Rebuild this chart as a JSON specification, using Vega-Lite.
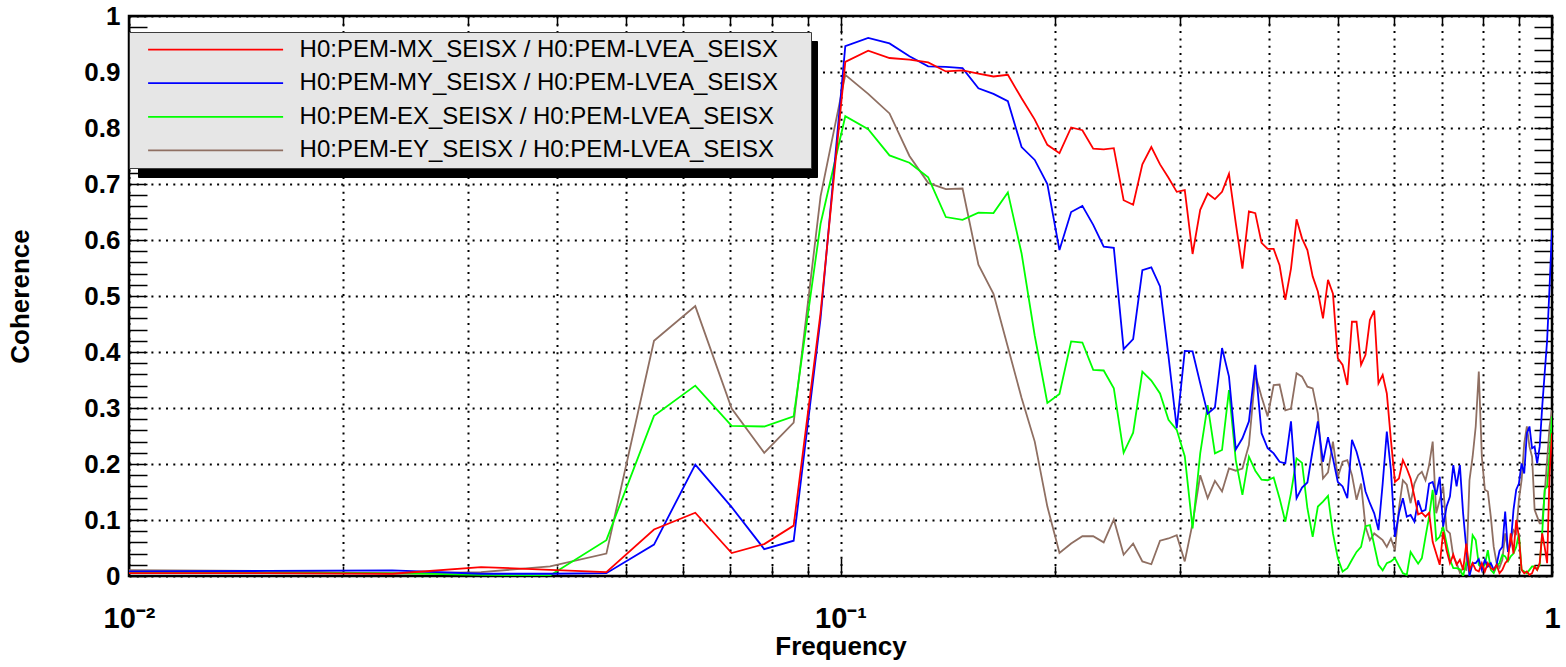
{
  "$schema": "https://vega.github.io/schema/vega-lite/v6.json",
  "width": 1423,
  "height": 560,
  "autosize": {"type": "none"},
  "padding": {"left": 129, "top": 16, "right": 14, "bottom": 91},
  "background": "white",
  "config": {
    "view": {"stroke": "black", "strokeWidth": 2.5},
    "font": "Liberation Sans"
  },
  "data": {
    "values": [
      {"f": 0.0078125, "MX": 0.005, "MY": 0.008, "EX": 0.007, "EY": 0.011},
      {"f": 0.015625, "MX": 0.005, "MY": 0.009, "EX": 0.006, "EY": 0.009},
      {"f": 0.0234375, "MX": 0.004, "MY": 0.010, "EX": 0.005, "EY": 0.004},
      {"f": 0.03125, "MX": 0.016, "MY": 0.004, "EX": 0.002, "EY": 0.007},
      {"f": 0.0390625, "MX": 0.011, "MY": 0.004, "EX": 0.001, "EY": 0.017},
      {"f": 0.046875, "MX": 0.007, "MY": 0.005, "EX": 0.064, "EY": 0.040},
      {"f": 0.0546875, "MX": 0.083, "MY": 0.056, "EX": 0.286, "EY": 0.420},
      {"f": 0.0625, "MX": 0.113, "MY": 0.199, "EX": 0.340, "EY": 0.482},
      {"f": 0.0703125, "MX": 0.041, "MY": 0.123, "EX": 0.268, "EY": 0.299},
      {"f": 0.078125, "MX": 0.057, "MY": 0.048, "EX": 0.267, "EY": 0.220},
      {"f": 0.0859375, "MX": 0.090, "MY": 0.063, "EX": 0.285, "EY": 0.274},
      {"f": 0.09375, "MX": 0.470, "MY": 0.460, "EX": 0.629, "EY": 0.678},
      {"f": 0.1015625, "MX": 0.918, "MY": 0.946, "EX": 0.821, "EY": 0.895},
      {"f": 0.109375, "MX": 0.938, "MY": 0.961, "EX": 0.798, "EY": 0.861},
      {"f": 0.1171875, "MX": 0.925, "MY": 0.951, "EX": 0.751, "EY": 0.826},
      {"f": 0.125, "MX": 0.922, "MY": 0.928, "EX": 0.738, "EY": 0.750},
      {"f": 0.1328125, "MX": 0.917, "MY": 0.910, "EX": 0.712, "EY": 0.702},
      {"f": 0.140625, "MX": 0.901, "MY": 0.909, "EX": 0.641, "EY": 0.691},
      {"f": 0.1484375, "MX": 0.903, "MY": 0.907, "EX": 0.636, "EY": 0.692},
      {"f": 0.15625, "MX": 0.897, "MY": 0.871, "EX": 0.649, "EY": 0.556},
      {"f": 0.1640625, "MX": 0.892, "MY": 0.861, "EX": 0.648, "EY": 0.504},
      {"f": 0.171875, "MX": 0.895, "MY": 0.848, "EX": 0.685, "EY": 0.409},
      {"f": 0.1796875, "MX": 0.853, "MY": 0.766, "EX": 0.576, "EY": 0.318},
      {"f": 0.1875, "MX": 0.815, "MY": 0.743, "EX": 0.429, "EY": 0.240},
      {"f": 0.1953125, "MX": 0.770, "MY": 0.700, "EX": 0.309, "EY": 0.124},
      {"f": 0.203125, "MX": 0.755, "MY": 0.582, "EX": 0.325, "EY": 0.041},
      {"f": 0.2109375, "MX": 0.801, "MY": 0.650, "EX": 0.419, "EY": 0.058},
      {"f": 0.21875, "MX": 0.796, "MY": 0.661, "EX": 0.417, "EY": 0.071},
      {"f": 0.2265625, "MX": 0.763, "MY": 0.627, "EX": 0.368, "EY": 0.071},
      {"f": 0.234375, "MX": 0.762, "MY": 0.588, "EX": 0.367, "EY": 0.060},
      {"f": 0.2421875, "MX": 0.764, "MY": 0.586, "EX": 0.335, "EY": 0.101},
      {"f": 0.25, "MX": 0.671, "MY": 0.405, "EX": 0.220, "EY": 0.038},
      {"f": 0.2578125, "MX": 0.663, "MY": 0.423, "EX": 0.256, "EY": 0.058},
      {"f": 0.265625, "MX": 0.735, "MY": 0.546, "EX": 0.365, "EY": 0.026},
      {"f": 0.2734375, "MX": 0.766, "MY": 0.551, "EX": 0.349, "EY": 0.021},
      {"f": 0.28125, "MX": 0.735, "MY": 0.517, "EX": 0.326, "EY": 0.063},
      {"f": 0.2890625, "MX": 0.711, "MY": 0.392, "EX": 0.279, "EY": 0.067},
      {"f": 0.296875, "MX": 0.686, "MY": 0.264, "EX": 0.261, "EY": 0.073},
      {"f": 0.3046875, "MX": 0.689, "MY": 0.402, "EX": 0.214, "EY": 0.026},
      {"f": 0.3125, "MX": 0.575, "MY": 0.401, "EX": 0.085, "EY": 0.094},
      {"f": 0.3203125, "MX": 0.654, "MY": 0.344, "EX": 0.219, "EY": 0.180},
      {"f": 0.328125, "MX": 0.683, "MY": 0.290, "EX": 0.305, "EY": 0.139},
      {"f": 0.3359375, "MX": 0.673, "MY": 0.301, "EX": 0.219, "EY": 0.170},
      {"f": 0.34375, "MX": 0.686, "MY": 0.407, "EX": 0.225, "EY": 0.151},
      {"f": 0.3515625, "MX": 0.718, "MY": 0.356, "EX": 0.332, "EY": 0.192},
      {"f": 0.359375, "MX": 0.630, "MY": 0.226, "EX": 0.207, "EY": 0.188},
      {"f": 0.3671875, "MX": 0.549, "MY": 0.246, "EX": 0.145, "EY": 0.192},
      {"f": 0.375, "MX": 0.651, "MY": 0.276, "EX": 0.213, "EY": 0.234},
      {"f": 0.3828125, "MX": 0.648, "MY": 0.377, "EX": 0.188, "EY": 0.360},
      {"f": 0.390625, "MX": 0.595, "MY": 0.255, "EX": 0.172, "EY": 0.320},
      {"f": 0.3984375, "MX": 0.584, "MY": 0.228, "EX": 0.171, "EY": 0.285},
      {"f": 0.40625, "MX": 0.584, "MY": 0.219, "EX": 0.176, "EY": 0.341},
      {"f": 0.4140625, "MX": 0.555, "MY": 0.204, "EX": 0.139, "EY": 0.342},
      {"f": 0.421875, "MX": 0.493, "MY": 0.201, "EX": 0.097, "EY": 0.296},
      {"f": 0.4296875, "MX": 0.549, "MY": 0.276, "EX": 0.148, "EY": 0.299},
      {"f": 0.4375, "MX": 0.637, "MY": 0.139, "EX": 0.210, "EY": 0.362},
      {"f": 0.4453125, "MX": 0.603, "MY": 0.158, "EX": 0.202, "EY": 0.356},
      {"f": 0.453125, "MX": 0.582, "MY": 0.167, "EX": 0.121, "EY": 0.338},
      {"f": 0.4609375, "MX": 0.535, "MY": 0.225, "EX": 0.070, "EY": 0.335},
      {"f": 0.46875, "MX": 0.508, "MY": 0.276, "EX": 0.124, "EY": 0.290},
      {"f": 0.4765625, "MX": 0.460, "MY": 0.204, "EX": 0.133, "EY": 0.174},
      {"f": 0.484375, "MX": 0.529, "MY": 0.248, "EX": 0.143, "EY": 0.185},
      {"f": 0.4921875, "MX": 0.504, "MY": 0.210, "EX": 0.076, "EY": 0.240},
      {"f": 0.5, "MX": 0.389, "MY": 0.168, "EX": 0.032, "EY": 0.177},
      {"f": 0.5078125, "MX": 0.377, "MY": 0.160, "EX": 0.008, "EY": 0.204},
      {"f": 0.515625, "MX": 0.341, "MY": 0.139, "EX": 0.014, "EY": 0.207},
      {"f": 0.5234375, "MX": 0.454, "MY": 0.243, "EX": 0.029, "EY": 0.180},
      {"f": 0.53125, "MX": 0.454, "MY": 0.222, "EX": 0.043, "EY": 0.136},
      {"f": 0.5390625, "MX": 0.377, "MY": 0.192, "EX": 0.052, "EY": 0.165},
      {"f": 0.546875, "MX": 0.395, "MY": 0.151, "EX": 0.089, "EY": 0.088},
      {"f": 0.5546875, "MX": 0.457, "MY": 0.130, "EX": 0.091, "EY": 0.064},
      {"f": 0.5625, "MX": 0.474, "MY": 0.112, "EX": 0.055, "EY": 0.076},
      {"f": 0.5703125, "MX": 0.344, "MY": 0.082, "EX": 0.020, "EY": 0.070},
      {"f": 0.578125, "MX": 0.359, "MY": 0.165, "EX": 0.010, "EY": 0.064},
      {"f": 0.5859375, "MX": 0.326, "MY": 0.258, "EX": 0.023, "EY": 0.052},
      {"f": 0.59375, "MX": 0.243, "MY": 0.189, "EX": 0.026, "EY": 0.067},
      {"f": 0.6015625, "MX": 0.168, "MY": 0.070, "EX": 0.032, "EY": 0.046},
      {"f": 0.609375, "MX": 0.174, "MY": 0.112, "EX": 0.018, "EY": 0.121},
      {"f": 0.6171875, "MX": 0.207, "MY": 0.139, "EX": 0.005, "EY": 0.171},
      {"f": 0.625, "MX": 0.192, "MY": 0.106, "EX": 0.002, "EY": 0.163},
      {"f": 0.6328125, "MX": 0.174, "MY": 0.109, "EX": 0.043, "EY": 0.130},
      {"f": 0.640625, "MX": 0.142, "MY": 0.097, "EX": 0.032, "EY": 0.165},
      {"f": 0.6484375, "MX": 0.110, "MY": 0.135, "EX": 0.022, "EY": 0.180},
      {"f": 0.65625, "MX": 0.113, "MY": 0.115, "EX": 0.032, "EY": 0.186},
      {"f": 0.6640625, "MX": 0.106, "MY": 0.118, "EX": 0.070, "EY": 0.171},
      {"f": 0.671875, "MX": 0.113, "MY": 0.165, "EX": 0.106, "EY": 0.198},
      {"f": 0.6796875, "MX": 0.061, "MY": 0.168, "EX": 0.154, "EY": 0.240},
      {"f": 0.6875, "MX": 0.040, "MY": 0.145, "EX": 0.064, "EY": 0.112},
      {"f": 0.6953125, "MX": 0.020, "MY": 0.177, "EX": 0.070, "EY": 0.136},
      {"f": 0.703125, "MX": 0.079, "MY": 0.088, "EX": 0.088, "EY": 0.160},
      {"f": 0.7109375, "MX": 0.046, "MY": 0.124, "EX": 0.058, "EY": 0.082},
      {"f": 0.71875, "MX": 0.023, "MY": 0.142, "EX": 0.029, "EY": 0.076},
      {"f": 0.7265625, "MX": 0.038, "MY": 0.198, "EX": 0.014, "EY": 0.035},
      {"f": 0.734375, "MX": 0.020, "MY": 0.160, "EX": 0.014, "EY": 0.023},
      {"f": 0.7421875, "MX": 0.029, "MY": 0.198, "EX": 0.012, "EY": 0.006},
      {"f": 0.75, "MX": 0.011, "MY": 0.112, "EX": 0.000, "EY": 0.014},
      {"f": 0.7578125, "MX": 0.058, "MY": 0.049, "EX": 0.023, "EY": 0.011},
      {"f": 0.765625, "MX": 0.011, "MY": 0.000, "EX": 0.017, "EY": 0.171},
      {"f": 0.7734375, "MX": 0.023, "MY": 0.023, "EX": 0.073, "EY": 0.213},
      {"f": 0.78125, "MX": 0.011, "MY": 0.023, "EX": 0.064, "EY": 0.267},
      {"f": 0.7890625, "MX": 0.008, "MY": 0.030, "EX": 0.020, "EY": 0.365},
      {"f": 0.796875, "MX": 0.023, "MY": 0.011, "EX": 0.014, "EY": 0.213},
      {"f": 0.8046875, "MX": 0.008, "MY": 0.029, "EX": 0.020, "EY": 0.154},
      {"f": 0.8125, "MX": 0.023, "MY": 0.017, "EX": 0.046, "EY": 0.151},
      {"f": 0.8203125, "MX": 0.014, "MY": 0.023, "EX": 0.011, "EY": 0.106},
      {"f": 0.828125, "MX": 0.011, "MY": 0.011, "EX": 0.005, "EY": 0.052},
      {"f": 0.8359375, "MX": 0.020, "MY": 0.020, "EX": 0.017, "EY": 0.023},
      {"f": 0.84375, "MX": 0.005, "MY": 0.045, "EX": 0.023, "EY": 0.015},
      {"f": 0.8515625, "MX": 0.011, "MY": 0.052, "EX": 0.038, "EY": 0.029},
      {"f": 0.859375, "MX": 0.023, "MY": 0.115, "EX": 0.035, "EY": 0.076},
      {"f": 0.8671875, "MX": 0.029, "MY": 0.043, "EX": 0.026, "EY": 0.046},
      {"f": 0.875, "MX": 0.076, "MY": 0.058, "EX": 0.035, "EY": 0.064},
      {"f": 0.8828125, "MX": 0.040, "MY": 0.118, "EX": 0.040, "EY": 0.082},
      {"f": 0.890625, "MX": 0.100, "MY": 0.154, "EX": 0.052, "EY": 0.076},
      {"f": 0.8984375, "MX": 0.070, "MY": 0.165, "EX": 0.076, "EY": 0.136},
      {"f": 0.90625, "MX": 0.011, "MY": 0.201, "EX": 0.011, "EY": 0.171},
      {"f": 0.9140625, "MX": 0.005, "MY": 0.183, "EX": 0.008, "EY": 0.237},
      {"f": 0.921875, "MX": 0.008, "MY": 0.255, "EX": 0.005, "EY": 0.267},
      {"f": 0.9296875, "MX": 0.002, "MY": 0.267, "EX": 0.011, "EY": 0.231},
      {"f": 0.9375, "MX": 0.005, "MY": 0.228, "EX": 0.017, "EY": 0.213},
      {"f": 0.9453125, "MX": 0.017, "MY": 0.231, "EX": 0.017, "EY": 0.118},
      {"f": 0.953125, "MX": 0.011, "MY": 0.201, "EX": 0.011, "EY": 0.106},
      {"f": 0.9609375, "MX": 0.023, "MY": 0.231, "EX": 0.020, "EY": 0.094},
      {"f": 0.96875, "MX": 0.076, "MY": 0.302, "EX": 0.076, "EY": 0.094},
      {"f": 0.9765625, "MX": 0.052, "MY": 0.362, "EX": 0.154, "EY": 0.148},
      {"f": 0.984375, "MX": 0.023, "MY": 0.421, "EX": 0.160, "EY": 0.207},
      {"f": 0.9921875, "MX": 0.183, "MY": 0.517, "EX": 0.219, "EY": 0.267},
      {"f": 1, "MX": 0.255, "MY": 0.618, "EX": 0.285, "EY": 0.296}
    ]
  },
  "transform": [
    {"fold": ["EY", "EX", "MY", "MX"], "as": ["sensor", "coherence"]}
  ],
  "layer": [
    {
      "description": "Invisible copy of the curves: carries the top/right tick axes and the dark drop shadow behind the legend.",
      "mark": {"type": "line", "opacity": 0, "clip": true},
      "encoding": {
        "x": {
          "field": "f",
          "type": "quantitative",
          "scale": {"type": "log", "domain": [0.01, 1], "nice": false},
          "axis": {
            "orient": "top",
            "values": [0.01, 0.02, 0.03, 0.04, 0.05, 0.06, 0.07, 0.08, 0.09, 0.1, 0.2, 0.3, 0.4, 0.5, 0.6, 0.7, 0.8, 0.9, 1],
            "labels": false,
            "grid": false,
            "domain": false,
            "title": null,
            "ticks": true,
            "tickColor": "black",
            "tickWidth": 1.5,
            "tickSize": {"condition": {"test": "datum.value == 0.01 || datum.value == 0.1 || datum.value == 1", "value": -18}, "value": -10},
            "zindex": 0
          }
        },
        "y": {
          "field": "coherence",
          "type": "quantitative",
          "scale": {"domain": [0, 1], "nice": false, "zero": false},
          "axis": {
            "orient": "right",
            "values": [0, 0.02, 0.04, 0.06, 0.08, 0.1, 0.12, 0.14, 0.16, 0.18, 0.2, 0.22, 0.24, 0.26, 0.28, 0.3, 0.32, 0.34, 0.36, 0.38, 0.4, 0.42, 0.44, 0.46, 0.48, 0.5, 0.52, 0.54, 0.56, 0.58, 0.6, 0.62, 0.64, 0.66, 0.68, 0.7, 0.72, 0.74, 0.76, 0.78, 0.8, 0.82, 0.84, 0.86, 0.88, 0.9, 0.92, 0.94, 0.96, 0.98, 1],
            "labels": false,
            "grid": false,
            "domain": false,
            "title": null,
            "ticks": true,
            "tickColor": "black",
            "tickWidth": 1.5,
            "tickSize": -18,
            "zindex": 0
          }
        },
        "strokeDash": {
          "field": "sensor",
          "type": "nominal",
          "scale": {"domain": ["EY", "EX", "MY", "MX"]},
          "legend": {
            "orient": "none",
            "legendX": 9,
            "legendY": 25,
            "title": null,
            "fillColor": "black",
            "strokeColor": "black",
            "padding": 5.6,
            "rowPadding": 9.6,
            "symbolType": "M-6.75,0L6.75,0",
            "symbolSize": 400,
            "symbolStrokeWidth": 1.8,
            "symbolOffset": 69,
            "symbolOpacity": 0,
            "labelOffset": 574.3,
            "labelFont": "Liberation Sans",
            "labelFontSize": 24,
            "labelOpacity": 0,
            "labelLimit": 1000,
            "labelExpr": "'\u200b'",
            "zindex": 1
          }
        }
      }
    },
    {
      "description": "Coherence of each end/mid station seismometer against the LVEA seismometer.",
      "mark": {"type": "line", "strokeWidth": 1.8, "clip": true},
      "encoding": {
        "x": {
          "field": "f",
          "type": "quantitative",
          "scale": {"type": "log", "domain": [0.01, 1], "nice": false},
          "axis": {
            "orient": "bottom",
            "values": [0.01, 0.02, 0.03, 0.04, 0.05, 0.06, 0.07, 0.08, 0.09, 0.1, 0.2, 0.3, 0.4, 0.5, 0.6, 0.7, 0.8, 0.9, 1],
            "labelExpr": "datum.value == 0.01 ? '10⁻²' : datum.value == 0.1 ? '10⁻¹' : datum.value == 1 ? '1' : ''",
            "labelFont": "Liberation Sans",
            "labelFontWeight": "bold",
            "labelFontSize": 29,
            "labelColor": "black",
            "labelPadding": 46,
            "labelFlush": false,
            "labelOverlap": false,
            "labelBound": false,
            "grid": true,
            "gridColor": "black",
            "gridDash": [2, 5.3],
            "gridWidth": 2,
            "ticks": true,
            "tickColor": "black",
            "tickWidth": 1.5,
            "tickSize": {"condition": {"test": "datum.value == 0.01 || datum.value == 0.1 || datum.value == 1", "value": -18}, "value": -10},
            "domain": false,
            "title": "Frequency",
            "titleFont": "Liberation Sans",
            "titleFontSize": 26,
            "titleFontWeight": "bold",
            "titleColor": "black",
            "titlePadding": -8,
            "zindex": 0
          }
        },
        "y": {
          "field": "coherence",
          "type": "quantitative",
          "scale": {"domain": [0, 1], "nice": false, "zero": false},
          "axis": {
            "orient": "left",
            "values": [0, 0.02, 0.04, 0.06, 0.08, 0.1, 0.12, 0.14, 0.16, 0.18, 0.2, 0.22, 0.24, 0.26, 0.28, 0.3, 0.32, 0.34, 0.36, 0.38, 0.4, 0.42, 0.44, 0.46, 0.48, 0.5, 0.52, 0.54, 0.56, 0.58, 0.6, 0.62, 0.64, 0.66, 0.68, 0.7, 0.72, 0.74, 0.76, 0.78, 0.8, 0.82, 0.84, 0.86, 0.88, 0.9, 0.92, 0.94, 0.96, 0.98, 1],
            "labelExpr": "abs(datum.value * 10 - round(datum.value * 10)) < 0.001 ? format(datum.value, '.1~f') : ''",
            "labelFont": "Liberation Sans",
            "labelFontWeight": "bold",
            "labelFontSize": 26,
            "labelColor": "black",
            "labelPadding": 27,
            "labelOverlap": false,
            "labelBound": false,
            "labelFlush": false,
            "grid": true,
            "gridColor": "black",
            "gridDash": [2, 5.3],
            "gridWidth": 2,
            "gridOpacity": {"condition": {"test": "abs(datum.value * 10 - round(datum.value * 10)) < 0.001", "value": 1}, "value": 0},
            "ticks": true,
            "tickColor": "black",
            "tickWidth": 1.5,
            "tickSize": -18,
            "domain": false,
            "title": "Coherence",
            "titleFont": "Liberation Sans",
            "titleFontSize": 26,
            "titleFontWeight": "bold",
            "titleColor": "black",
            "titlePadding": 50,
            "zindex": 0
          }
        },
        "color": {
          "field": "sensor",
          "type": "nominal",
          "scale": {"domain": ["MX", "MY", "EX", "EY"], "range": ["#ff0000", "#0000ff", "#00ff00", "#8f6f62"]},
          "legend": {
            "orient": "none",
            "legendX": 0,
            "legendY": 16,
            "title": null,
            "fillColor": "#e6e6e6",
            "strokeColor": "#3c3c3c",
            "padding": 5.6,
            "rowPadding": 9.6,
            "symbolType": "M-6.75,0L6.75,0",
            "symbolSize": 400,
            "symbolStrokeWidth": 1.8,
            "symbolOffset": 69,
            "labelOffset": 72,
            "labelFont": "Liberation Sans",
            "labelFontSize": 24,
            "labelColor": "black",
            "labelLimit": 1000,
            "labelExpr": "'H0:PEM-' + datum.label + '_SEISX / H0:PEM-LVEA_SEISX\u00a0\u00a0\u00a0\u00a0\u200b'",
            "zindex": 2
          }
        }
      }
    }
  ],
  "resolve": {"axis": {"x": "independent", "y": "independent"}}
}
